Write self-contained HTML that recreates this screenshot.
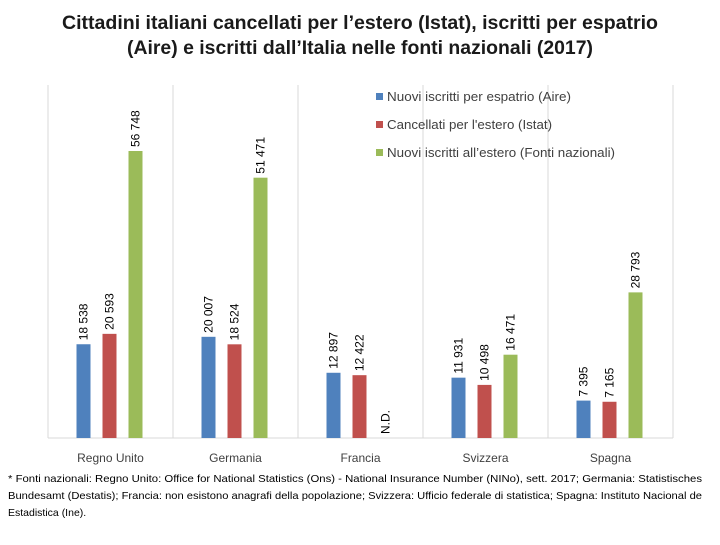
<!DOCTYPE html>
<html><head><meta charset="utf-8"><style>
body{margin:0;background:#fff;font-family:"Liberation Sans",sans-serif;}
svg text{font-family:"Liberation Sans",sans-serif;}
</style></head><body>
<svg width="720" height="540" xmlns="http://www.w3.org/2000/svg">
<text x="360" y="29" text-anchor="middle" font-size="19" font-weight="bold" fill="#1a1a1a" textLength="596" lengthAdjust="spacingAndGlyphs">Cittadini italiani cancellati per l’estero (Istat), iscritti per espatrio</text>
<text x="360" y="54" text-anchor="middle" font-size="19" font-weight="bold" fill="#1a1a1a" textLength="466" lengthAdjust="spacingAndGlyphs">(Aire) e iscritti dall’Italia nelle fonti nazionali (2017)</text>
<g id="grid"></g>
<g id="bars"></g>
<g id="legend"></g>
<text x="8" y="482" font-size="10.5" fill="#000" textLength="694" lengthAdjust="spacingAndGlyphs">* Fonti nazionali: Regno Unito: Office for National Statistics (Ons) - National Insurance Number (NINo), sett. 2017; Germania: Statistisches</text>
<text x="8" y="499" font-size="10.5" fill="#000" textLength="694" lengthAdjust="spacingAndGlyphs">Bundesamt (Destatis); Francia: non esistono anagrafi della popolazione; Svizzera: Ufficio federale di statistica; Spagna: Instituto Nacional de</text>
<text x="8" y="516" font-size="10.5" fill="#000">Estadistica (Ine).</text>
</svg>
<script>
const categories=["Regno Unito","Germania","Francia","Svizzera","Spagna"];
const aire=[18538,20007,12897,11931,7395];
const istat=[20593,18524,12422,10498,7165];
const nazionali=[56748,51471,null,16471,28793];
const seriesNames=["Nuovi iscritti per espatrio (Aire)","Cancellati per l'estero (Istat)","Nuovi iscritti all’estero (Fonti nazionali)"];
const legendLens=[184,165,228];
const colors=["#4f81bd","#c0504d","#9bbb59"];
const NS="http://www.w3.org/2000/svg";
const base=438, x0=48, step=125, pxPer=287/56748;
const y=v=>base-v*pxPer;
const xc=i=>x0+step*(i+0.5);
function mk(t,a,p){const e=document.createElementNS(NS,t);for(const k in a)e.setAttribute(k,a[k]);p.appendChild(e);return e;}
const grid=document.getElementById('grid'),bars=document.getElementById('bars'),leg=document.getElementById('legend');
for(let i=0;i<=categories.length;i++){const l=mk('line',{x1:x0+step*i,x2:x0+step*i,y1:85,y2:base,stroke:'#d9d9d9'},grid);

}
const ax=mk('line',{x1:x0,x2:x0+step*5,y1:base,y2:base,stroke:'#d9d9d9'},grid);


const series=[aire,istat,nazionali];const offs=[-27,-1,25];
categories.forEach((c,i)=>{
 series.forEach((s,j)=>{
  const cx=xc(i)+offs[j];const v=s[i];
  if(v!=null){
   const r=mk('rect',{x:cx-7,y:y(v),width:14,height:base-y(v),fill:colors[j]},bars);
   
   
  }
  const ty=(v!=null?y(v):base)-4;
  const t=mk('text',{x:0,y:0,transform:`translate(${cx+4},${ty}) rotate(-90)`,'font-size':12,fill:'#000'},bars);
  t.textContent=v!=null?v.toLocaleString('it-IT').replace(/\./g,' '):'N.D.';
  
  
 });
 const ct=mk('text',{x:xc(i),y:462,'text-anchor':'middle','font-size':12,fill:'#404040'},bars);
 ct.textContent=c;
 
 
});
seriesNames.forEach((n,j)=>{
 const r=mk('rect',{x:376,y:93+28*j,width:7,height:7,fill:colors[j]},leg);
 
 
 const t=mk('text',{x:387,y:101+28*j,'font-size':12.5,fill:'#404040',textLength:legendLens[j],lengthAdjust:'spacingAndGlyphs'},leg);
 t.textContent=n;
 
 
});
</script>
</body></html>
